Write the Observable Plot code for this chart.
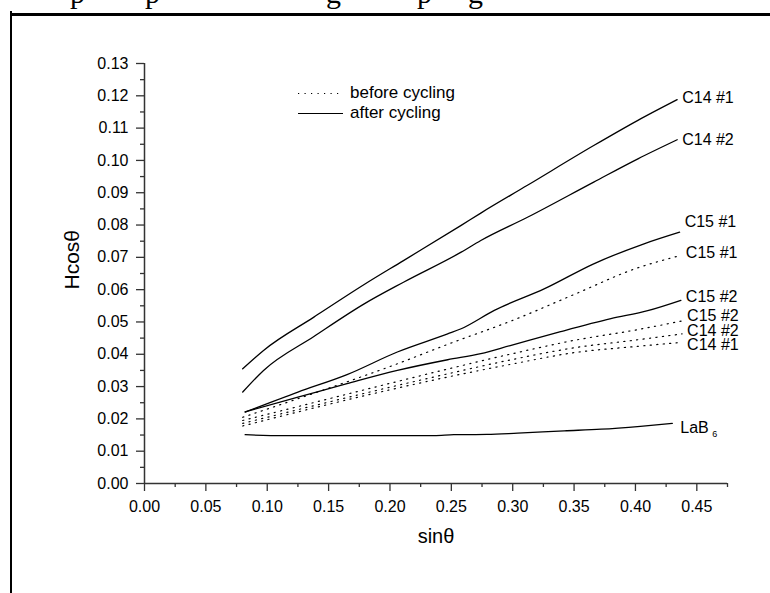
<!DOCTYPE html>
<html>
<head>
<meta charset="utf-8">
<script src="https://cdn.jsdelivr.net/npm/d3@7"></script>
<script src="https://cdn.jsdelivr.net/npm/@observablehq/plot@0.6"></script>
<style>
  html, body { margin: 0; padding: 0; background: #fff; }
  #wrap { position: relative; width: 770px; height: 593px; overflow: hidden; font-family: "Liberation Sans", Arial, sans-serif; }
  #wrap > svg { position: absolute; left: 0; top: 0; }
  .desc { position: absolute; top: -22px; font-family: "Liberation Serif", "Times New Roman", serif; font-size: 30px; line-height: 30px; color: #000; }
  .bline { position: absolute; background: #000; }
  #legend { position: absolute; left: 296px; top: 82px; font-size: 17px; color: #000; }
  #legend .row { position: relative; height: 20px; line-height: 20px; white-space: nowrap; }
  #legend svg { position: static; vertical-align: middle; }
</style>
</head>
<body>
<div id="wrap"></div>
<script>
// ---- data ----
const xTicks = [0.00, 0.05, 0.10, 0.15, 0.20, 0.25, 0.30, 0.35, 0.40, 0.45];
const xMinorTicks = [0.025, 0.075, 0.125, 0.175, 0.225, 0.275, 0.325, 0.375, 0.425, 0.475];
const yTicks = [0.00, 0.01, 0.02, 0.03, 0.04, 0.05, 0.06, 0.07, 0.08, 0.09, 0.10, 0.11, 0.12, 0.13];
const yMinorTicks = [0.005, 0.015, 0.025, 0.035, 0.045, 0.055, 0.065, 0.075, 0.085, 0.095, 0.105, 0.115, 0.125];

// after cycling (solid)
const c14n1After = [[0.080,0.0355],[0.097,0.0412],[0.138,0.0515],[0.179,0.0616],[0.211,0.0690],[0.258,0.0799],[0.274,0.0837],[0.312,0.0923],[0.366,0.1046],[0.402,0.1124],[0.434,0.1188]];
const c14n2After = [[0.080,0.0283],[0.097,0.0350],[0.138,0.0455],[0.179,0.0556],[0.211,0.0623],[0.258,0.0716],[0.274,0.0752],[0.312,0.0824],[0.366,0.0933],[0.402,0.1005],[0.434,0.1064]];
const c15n1After = [[0.082,0.0221],[0.125,0.0283],[0.165,0.0337],[0.206,0.0407],[0.247,0.0463],[0.258,0.0479],[0.285,0.0536],[0.326,0.0603],[0.366,0.0680],[0.407,0.0742],[0.436,0.0778]];
const c15n2After = [[0.082,0.0222],[0.125,0.0267],[0.165,0.0309],[0.206,0.0350],[0.247,0.0383],[0.274,0.0402],[0.298,0.0427],[0.339,0.0470],[0.380,0.0510],[0.410,0.0535],[0.437,0.0567]];
const lab6 = [[0.082,0.0151],[0.113,0.0148],[0.236,0.0148],[0.252,0.0151],[0.279,0.0152],[0.304,0.0156],[0.342,0.0163],[0.372,0.0168],[0.404,0.0177],[0.430,0.0186]];

// before cycling (dotted)
const c15n1Before = [[0.080,0.0205],[0.150,0.0295],[0.200,0.0362],[0.250,0.0435],[0.300,0.0505],[0.350,0.0585],[0.400,0.0665],[0.437,0.0706]];
const c15n2Before = [[0.080,0.0195],[0.150,0.0262],[0.200,0.0310],[0.250,0.0357],[0.300,0.0402],[0.350,0.0443],[0.400,0.0475],[0.438,0.0503]];
const c14n2Before = [[0.080,0.0186],[0.150,0.0252],[0.200,0.0298],[0.250,0.0342],[0.300,0.0384],[0.350,0.0420],[0.400,0.0444],[0.438,0.0463]];
const c14n1Before = [[0.080,0.0178],[0.150,0.0245],[0.200,0.0290],[0.250,0.0332],[0.300,0.0370],[0.350,0.0405],[0.400,0.0424],[0.438,0.0437]];

const seriesNames = ["C14 #1", "C14 #2", "C15 #1", "C15 #2", "C15 #1", "C15 #2", "C14 #2", "C14 #1"];
const legendLabels = ["before cycling", "after cycling"];
const xLabel = "sinθ";
const yLabel = "Hcosθ";

// ---- chart ----
const solid = [c14n1After, c14n2After, c15n1After, c15n2After];
const dotted = [c15n1Before, c15n2Before, c14n2Before, c14n1Before];
const labelDy = [-2, 0, -10, -3, -3, -5, -3, 3];
const allSeries = [...solid, ...dotted];

const fx = d => d[0], fy = d => d[1];
const ink = "#000";
const axisInk = "#333";

const marks = [];
solid.forEach(s => marks.push(Plot.line(s, {x: fx, y: fy, stroke: ink, strokeWidth: 1.3, curve: "monotone-x"})));
marks.push(Plot.line(lab6, {x: fx, y: fy, stroke: ink, strokeWidth: 1.3, curve: "monotone-x"}));
dotted.forEach(s => marks.push(Plot.line(s, {x: fx, y: fy, stroke: ink, strokeWidth: 1.2, strokeDasharray: "1.2,5.3", curve: "monotone-x"})));

allSeries.forEach((s, i) => {
  marks.push(Plot.text([s[s.length - 1]], {x: fx, y: fy, text: () => seriesNames[i], textAnchor: "start", dx: 5, dy: labelDy[i], fontSize: 16, fill: ink}));
});
const labEnd = lab6[lab6.length - 1];
marks.push(Plot.text([labEnd], {x: fx, y: fy, text: () => "LaB", textAnchor: "start", dx: 8, dy: 4, fontSize: 16, fill: ink}));
marks.push(Plot.text([labEnd], {x: fx, y: fy, text: () => "6", textAnchor: "start", dx: 40, dy: 11, fontSize: 9, fill: ink}));

// axes
marks.push(Plot.ruleX([0], {stroke: axisInk, strokeWidth: 1.5}));
marks.push(Plot.ruleY([0], {stroke: axisInk, strokeWidth: 1.5}));
marks.push(Plot.axisX({ticks: xTicks, tickFormat: d3.format(".2f"), tickSize: 8, tickPadding: 9, fontSize: 16, label: null, stroke: axisInk, strokeWidth: 1.3, color: ink}));
marks.push(Plot.axisX({ticks: xMinorTicks, tickFormat: () => "", tickSize: 4, label: null, stroke: axisInk, strokeWidth: 1.3}));
marks.push(Plot.axisY({ticks: yTicks, tickFormat: d3.format(".2f"), tickSize: 8, tickPadding: 8, fontSize: 16, label: null, stroke: axisInk, strokeWidth: 1.3, color: ink}));
marks.push(Plot.axisY({ticks: yMinorTicks, tickFormat: () => "", tickSize: 4, label: null, stroke: axisInk, strokeWidth: 1.3}));
marks.push(Plot.text([0], {frameAnchor: "bottom", text: () => xLabel, dy: 59, fontSize: 20, fill: ink}));
marks.push(Plot.text([0], {frameAnchor: "left", text: () => yLabel, dx: -72, dy: 16, rotate: -90, fontSize: 21, fill: ink}));

const chart = Plot.plot({
  width: 770,
  height: 593,
  marginLeft: 144,
  marginRight: 43,
  marginTop: 63,
  marginBottom: 110,
  x: {domain: [0, 0.475]},
  y: {domain: [0, 0.13]},
  style: {fontFamily: '"Liberation Sans", Arial, sans-serif', background: "#fff", color: ink},
  marks
});

const wrap = document.getElementById("wrap");
wrap.appendChild(chart);

// page fragments around the figure: clipped line of text above, frame lines
const descs = [["p", 70], ["p", 145], ["g", 326], ["p", 417], ["g", 468]];
descs.forEach(([ch, lx]) => {
  const s = document.createElement("span");
  s.className = "desc";
  s.style.left = lx + "px";
  s.textContent = ch;
  wrap.appendChild(s);
});
const topLine = document.createElement("div");
topLine.className = "bline";
Object.assign(topLine.style, {left: "10px", top: "13px", width: "760px", height: "2.5px"});
wrap.appendChild(topLine);
const leftLine = document.createElement("div");
leftLine.className = "bline";
Object.assign(leftLine.style, {left: "10px", top: "11px", width: "2px", height: "582px"});
wrap.appendChild(leftLine);

// legend
const legendBox = document.createElement("div");
legendBox.id = "legend";
legendLabels.forEach((lbl, i) => {
  const row = document.createElement("div");
  row.className = "row";
  const dash = i === 0 ? 'stroke-dasharray="1.2,5.3"' : "";
  row.innerHTML = `<svg width="50" height="20"><line x1="2" y1="10.5" x2="47" y2="10.5" stroke="#000" stroke-width="1.2" ${dash}/></svg><span style="margin-left:4px;vertical-align:middle">${lbl}</span>`;
  legendBox.appendChild(row);
});
wrap.appendChild(legendBox);
</script>
</body>
</html>
